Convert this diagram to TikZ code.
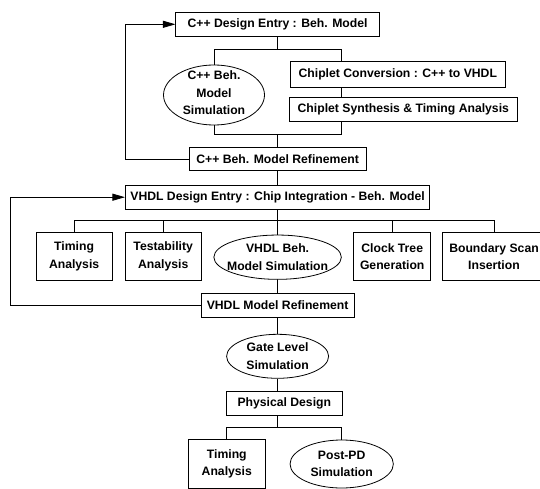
\documentclass[tikz,border=0pt]{standalone}
\usepackage{fontspec}
\setmainfont{Liberation Sans}
\usetikzlibrary{shapes.geometric,arrows.meta}
\begin{document}
\begin{tikzpicture}[x=1pt,y=-1pt,
  font=\fontsize{12.2}{17.6}\selectfont\bfseries,
  box/.style={draw, rectangle, inner sep=0pt, align=center, line width=0.8pt},
  ell/.style={draw, ellipse, inner sep=0pt, line width=0.8pt},
  txt/.style={align=center, inner sep=0pt},
  conn/.style={line width=0.8pt},
  arr/.style={line width=0.8pt, -{Triangle[length=12.5pt,width=7pt]}}]
\useasboundingbox (0,0) rectangle (540,489);
\clip (0,0) rectangle (540,489);

% C++ part
\node[box, minimum width=203.5pt, minimum height=23.3pt] (cde) at (277.6,24.3) {C++ Design Entry : Beh. Model};
\node[ell, minimum width=101pt, minimum height=60pt] (cbs) at (214,95) {};
\node[txt] (cbst) at (214,93) {C++ Beh.\\Model\\Simulation};
\node[box, minimum width=215.6pt, minimum height=25.6pt] (cc) at (397.8,74.5) {Chiplet Conversion : C++ to VHDL};
\node[box, minimum width=228pt, minimum height=24.4pt] (cs) at (403.3,109.5) {Chiplet Synthesis \& Timing Analysis};
\node[box, minimum width=177.3pt, minimum height=23pt] (cr) at (277.6,159.2) {C++ Beh. Model Refinement};

% VHDL part
\node[box, minimum width=304.5pt, minimum height=24.3pt] (vde) at (277.6,197.2) {VHDL Design Entry : Chip Integration - Beh. Model};
\node[box, minimum width=75.8pt, minimum height=48.4pt] (ta1) at (74.1,256.5) {Timing\\Analysis};
\node[box, minimum width=76.5pt, minimum height=48.4pt] (tb) at (163.2,256.5) {Testability\\Analysis};
\node[ell, minimum width=127.5pt, minimum height=44.3pt] (vbs) at (277.6,257.2) {};
\node[txt] (vbst) at (277.6,257.2) {VHDL Beh.\\Model Simulation};
\node[box, minimum width=77pt, minimum height=48.4pt] (ct) at (392.2,256.5) {Clock Tree\\Generation};
\node[box, minimum width=104pt, minimum height=48.4pt] (bsi) at (494,256.5) {Boundary Scan\\Insertion};
\node[box, minimum width=153pt, minimum height=24pt] (vmr) at (277.6,305.3) {VHDL Model Refinement};

% Gate level / physical
\node[ell, minimum width=102pt, minimum height=44pt] (gls) at (277.6,356.3) {};
\node[txt] (glst) at (277.6,356.3) {Gate Level\\Simulation};
\node[box, minimum width=115.3pt, minimum height=24pt] (pd) at (284.3,403) {Physical Design};
\node[box, minimum width=76.5pt, minimum height=48.7pt] (ta2) at (226.8,463.7) {Timing\\Analysis};
\node[ell, minimum width=103.3pt, minimum height=48pt] (pps) at (341.7,464) {};
\node[txt] (ppst) at (341.7,464) {Post-PD\\Simulation};

% buses
\coordinate (b1) at (277.6,49.3);
\coordinate (b1r) at (341,49.3);
\coordinate (b2) at (277.6,134.5);
\coordinate (b2r) at (341,134.5);
\coordinate (b3) at (0,220);
\coordinate (b4) at (0,427.5);

\draw[conn] (cde.south) -- (b1);
\draw[conn] (cbs.north) |- (b1r) -- (b1r |- cc.north);
\draw[conn] (b1r |- cc.south) -- (b1r |- cs.north);
\draw[conn] (cbs.south) |- (b2r) -- (b2r |- cs.south);
\draw[conn] (b2) -- (cr.north);
\draw[arr] (cr.west) -- ++(-63,0) |- (cde.west);

\draw[conn] (cr.south) -- (vde.north);
\draw[conn] (vde.south) -- (vbs.north);
\draw[conn] (ta1.north) |- (bsi.north |- b3) -- (bsi.north);
\draw[conn] (tb.north) -- (tb.north |- b3);
\draw[conn] (ct.north) -- (ct.north |- b3);
\draw[conn] (vbs.south) -- (vmr.north);
\draw[arr] (vmr.west) -- ++(-190,0) |- (vde.west);

\draw[conn] (vmr.south) -- (gls.north);
\draw[conn] (gls.south) -- (gls.south |- pd.north);
\draw[conn] (gls.south |- pd.south) -- (gls.south |- b4);
\draw[conn] (ta2.north) |- (pps.north |- b4) -- (pps.north);
\end{tikzpicture}
\end{document}
